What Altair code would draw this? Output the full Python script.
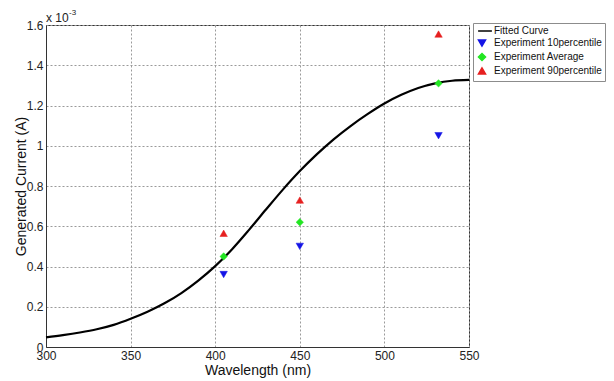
import altair as alt
import pandas as pd

# ---- data (current in units of 1e-3 A) ----
curve_wl = [300, 310, 320, 330, 340, 350, 360, 370, 380, 390, 400, 410, 420,
            430, 440, 450, 460, 470, 480, 490, 500, 510, 520, 530, 540, 550]
curve_i = [0.048, 0.059, 0.072, 0.088, 0.110, 0.140, 0.175, 0.217, 0.268, 0.330,
           0.402, 0.486, 0.582, 0.683, 0.782, 0.874, 0.957, 1.032, 1.098, 1.157,
           1.210, 1.253, 1.287, 1.310, 1.323, 1.327]

exp_wl = [405, 450, 532]
exp_p10 = [0.36, 0.50, 1.05]
exp_avg = [0.45, 0.62, 1.31]
exp_p90 = [0.565, 0.73, 1.555]

series_names = ["Fitted Curve", "Experiment 10percentile",
                "Experiment Average", "Experiment 90percentile"]
series_colors = ["#000000", "#1414e6", "#22e622", "#e62020"]
series_shapes = ["M-1.1,0L2.8,0", "triangle-down", "diamond", "triangle-up"]

x_ticks = [300, 350, 400, 450, 500, 550]
y_ticks = [0, 0.2, 0.4, 0.6, 0.8, 1.0, 1.2, 1.4, 1.6]
exp_label = ["x 10"]
exp_sup = ["-3"]

FONT = "Liberation Sans"

curve_df = pd.DataFrame({"wl": curve_wl, "cur": curve_i, "series": "Fitted Curve"})
pts = []
for name, vals in zip(series_names[1:], [exp_p10, exp_avg, exp_p90]):
    for w, v in zip(exp_wl, vals):
        pts.append({"wl": w, "cur": v, "series": name})
pts_df = pd.DataFrame(pts)

xscale = alt.Scale(domain=[300, 550], nice=False, zero=False)
yscale = alt.Scale(domain=[0, 1.6], nice=False)
cscale = alt.Scale(domain=series_names, range=series_colors)
sscale = alt.Scale(domain=series_names, range=series_shapes)

legend = alt.Legend(
    title=None, orient="none", legendX=427, legendY=-2,
    strokeColor="#8c8c8c", fillColor="white", padding=3,
    labelFont=FONT, labelFontSize=10, labelColor="#111",
    symbolSize=50, rowPadding=0, labelOffset=7, symbolOffset=1,
    symbolStrokeWidth=1.5,
)

xaxis = alt.Axis(values=x_ticks, title="Wavelength (nm)", format="d",
                 labelFlush=False, labelOverlap=False, labelBound=False,
                 titleY=27, titleBaseline="alphabetic")
yaxis = alt.Axis(values=y_ticks, title="Generated Current (A)", format=".1~f",
                 labelOverlap=False, labelFlush=False, titleX=-18)

line = alt.Chart(curve_df).mark_line(strokeWidth=2.2, interpolate="monotone").encode(
    x=alt.X("wl:Q", scale=xscale, axis=xaxis),
    y=alt.Y("cur:Q", scale=yscale, axis=yaxis),
    stroke=alt.Stroke("series:N", scale=cscale, legend=legend),
)

points = alt.Chart(pts_df).mark_point(filled=True, opacity=1, size=55, strokeWidth=0.5).encode(
    x=alt.X("wl:Q", scale=xscale),
    y=alt.Y("cur:Q", scale=yscale),
    fill=alt.Fill("series:N", scale=cscale, legend=legend),
    stroke=alt.Stroke("series:N", scale=cscale, legend=legend),
    shape=alt.Shape("series:N", scale=sscale, legend=legend),
)

t1 = alt.Chart(alt.Data(values=[{"t": exp_label[0]}])).mark_text(
    align="left", baseline="alphabetic", font=FONT, fontSize=12, color="#222"
).encode(text="t:N", x=alt.value(0), y=alt.value(-3))
t2 = alt.Chart(alt.Data(values=[{"t": exp_sup[0]}])).mark_text(
    align="left", baseline="alphabetic", font=FONT, fontSize=8, color="#222"
).encode(text="t:N", x=alt.value(23), y=alt.value(-10))

chart = alt.layer(line, points, t1, t2).properties(
    width=423, height=322,
    autosize=alt.AutoSizeParams(type="none"),
    padding={"left": 38, "top": 17, "right": 137, "bottom": 32},
    background="white",
).configure_view(
    stroke="#333", strokeWidth=1
).configure_axis(
    grid=True, gridColor="#9a9a9a", gridDash=[2, 2], gridWidth=1,
    ticks=False, domain=True, domainColor="#333",
    labelFont=FONT, labelFontSize=12, labelColor="#222", labelPadding=3,
    titleFont=FONT, titleFontSize=14, titleFontWeight="normal", titleColor="#111",
)

chart.save("out.html", embed_options={"renderer": "svg", "actions": False})
